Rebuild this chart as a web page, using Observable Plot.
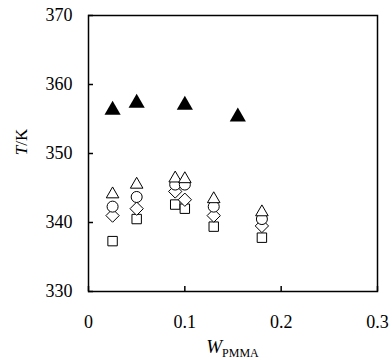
<!DOCTYPE html>
<html>
<head>
<meta charset="utf-8">
<script src="https://cdn.jsdelivr.net/npm/d3@7"></script>
<script src="https://cdn.jsdelivr.net/npm/@observablehq/plot@0.6"></script>
<style>
  html, body { margin: 0; padding: 0; background: #fff; }
  svg, svg text { font-family: "Liberation Serif", "DejaVu Serif", serif !important; }
</style>
</head>
<body>
<div id="chart"></div>
<script>
// Filled triangles
const filledW = [0.025, 0.05, 0.1, 0.155];
const filledT = [356.3, 357.3, 357.0, 355.3];

// Open symbols share the same compositions
const openW = [0.025, 0.05, 0.09, 0.1, 0.13, 0.18];
const triangleT = [344.1, 345.5, 346.4, 346.3, 343.4, 341.5];
const circleT   = [342.3, 343.7, 345.5, 345.5, 342.3, 340.5];
const diamondT  = [341.0, 342.0, 344.5, 343.3, 341.0, 339.5];
const squareT   = [337.3, 340.5, 342.6, 342.0, 339.4, 337.8];

const xTicks = [0, 0.1, 0.2, 0.3];
const yTicks = [330, 340, 350, 360, 370];

const filled = filledW.map((w, i) => ({w, t: filledT[i]}));
const mk = (arr) => openW.map((w, i) => ({w, t: arr[i]}));

const W = 392, H = 360;
const mL = 88, mR = 15, mT = 15, mB = 69;
const innerW = W - mL - mR, innerH = H - mT - mB;
const tickLen = 5;

const plot = Plot.plot({
  width: W,
  height: H,
  marginLeft: mL,
  marginRight: mR,
  marginTop: mT,
  marginBottom: mB,
  style: {fontSize: "18px", color: "black", background: "white"},
  x: {domain: [0, 0.3], label: null},
  y: {domain: [330, 370], label: null},
  marks: [
    Plot.tickX(xTicks, {x: d => d, stroke: "black", strokeWidth: 1.5, insetTop: innerH - tickLen}),
    Plot.tickY(yTicks, {y: d => d, stroke: "black", strokeWidth: 1.5, insetRight: innerW - tickLen}),
    Plot.axisX({ticks: xTicks, tickSize: 0, tickPadding: 24, fontSize: 18, tickFormat: d => String(d)}),
    Plot.axisY({ticks: yTicks, tickSize: 0, tickPadding: 16, fontSize: 18}),
    Plot.frame({stroke: "black", strokeWidth: 1.5}),
    Plot.dot(filled, {x: "w", y: "t", symbol: "triangle", fill: "black", r: 6}),
    Plot.dot(mk(squareT), {x: "w", y: "t", symbol: "square2", stroke: "black", strokeWidth: 1, fill: "white", r: 6}),
    Plot.dot(mk(diamondT), {x: "w", y: "t", symbol: "diamond2", stroke: "black", strokeWidth: 1, fill: "white", r: 6}),
    Plot.dot(mk(circleT), {x: "w", y: "t", symbol: "circle", stroke: "black", strokeWidth: 1, fill: "white", r: 5.5}),
    Plot.dot(mk(triangleT), {x: "w", y: "t", symbol: "triangle2", stroke: "black", strokeWidth: 1, fill: "white", r: 6})
  ]
});

const svg = d3.select(plot);
// x-axis label W_PMMA
const xl = svg.append("text")
  .attr("x", mL + innerW / 2)
  .attr("y", 353)
  .attr("text-anchor", "middle")
  .attr("fill", "black")
  .style("font-size", "19px");
xl.append("tspan").style("font-style", "italic").text("W");
xl.append("tspan").attr("dy", 4).style("font-size", "12px").text("PMMA");

// y-axis label T/K
const yl = svg.append("text")
  .attr("transform", `translate(27, ${mT + 127}) rotate(-90)`)
  .attr("text-anchor", "middle")
  .attr("fill", "black")
  .style("font-size", "17px");
yl.append("tspan").style("font-style", "italic").text("T");
yl.append("tspan").text("/K");

document.getElementById("chart").appendChild(plot);
</script>
</body>
</html>
